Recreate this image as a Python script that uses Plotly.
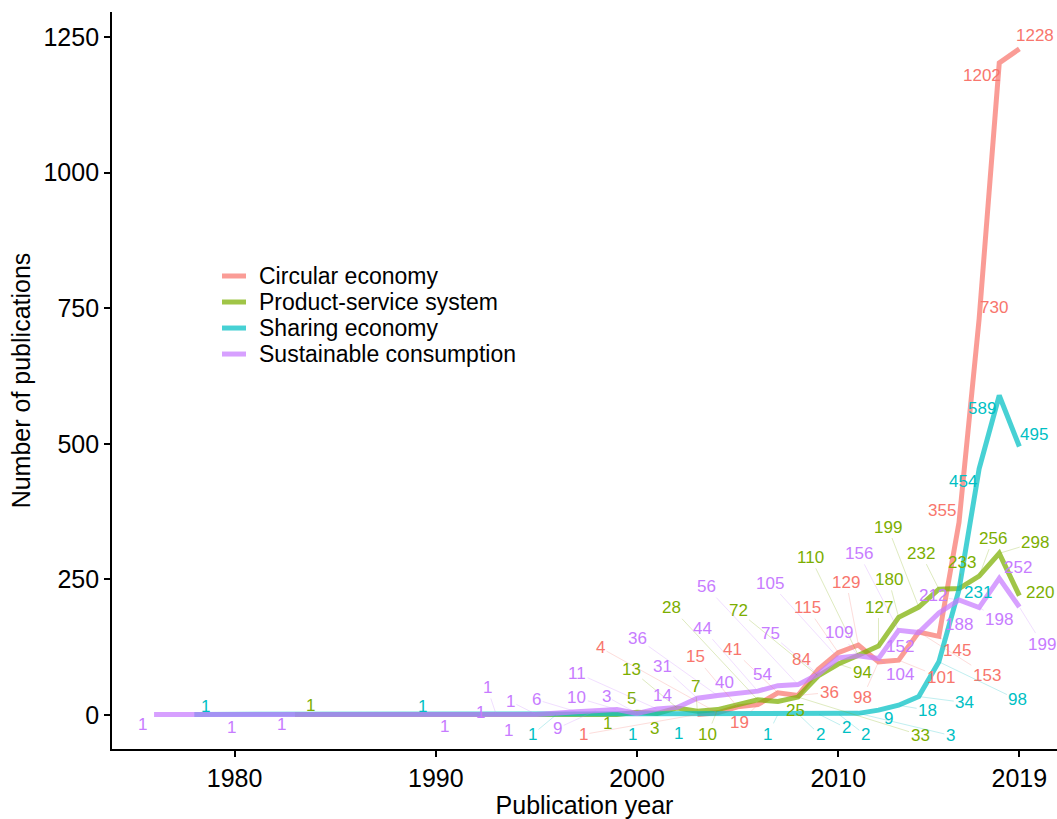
import math
import plotly.graph_objects as go

# Publications per year for each research field
circ_years = list(range(2003, 2020))
circ_counts = [1, 4, 15, 19, 41, 36, 84, 115, 129, 98, 101, 153, 145, 355, 730, 1202, 1228]

pss_years = [1983, 1999, 2000, 2001, 2002, 2003, 2004, 2006, 2007, 2008, 2009, 2010,
             2011, 2012, 2013, 2014, 2015, 2016, 2017, 2018, 2019]
pss_counts = [1, 1, 5, 3, 13, 7, 10, 28, 25, 33, 72, 94, 110, 127, 180, 199, 232, 233,
              256, 298, 220]

share_years = [1978, 1989, 1996, 2000, 2002, 2007, 2008, 2009, 2010, 2011, 2012, 2013,
               2014, 2015, 2016, 2017, 2018, 2019]
share_counts = [1, 1, 1, 1, 1, 1, 2, 2, 2, 3, 9, 18, 34, 98, 231, 454, 589, 495]

sc_years = [1976, 1980, 1982, 1991, 1992, 1993, 1994, 1995, 1997, 1998, 1999, 2000, 2001,
            2002, 2003, 2004, 2005, 2006, 2007, 2008, 2009, 2010, 2011, 2012, 2013, 2014,
            2015, 2016, 2017, 2018, 2019]
sc_counts = [1, 1, 1, 1, 1, 1, 1, 1, 6, 9, 10, 3, 11, 14, 31, 36, 40, 44, 54, 56, 75, 105,
             109, 104, 156, 152, 188, 212, 198, 252, 199]

series_names = ["Circular economy", "Product-service system", "Sharing economy",
                "Sustainable consumption"]

# Repelled label placement: pixel offset (dx, dy) of each value label from its point
circ_label_offsets = [(-114, 20), (-117, -65), (-42, -50), (-18, 18), (-45, -43), (31, -3),
                      (-17, -10), (-31, -45), (-12, -63), (-16, 36), (42, 17), (68, 43),
                      (18, 14), (-17, -12), (15, -12), (-17, 13), (16, -13)]
pss_label_offsets = [(16, -9), (-9, 9), (-6, -14), (-3, 15), (-46, -38), (-2, -25), (-10, 25),
                     (-86, -92), (18, 9), (122, 38), (-80, -65), (24, 8), (-48, -98),
                     (0, -39), (-10, -38), (-31, -80), (-18, -36), (3, -26), (14, -38),
                     (36, -11), (21, -3)]
share_label_offsets = [(11, -8), (7, -8), (-24, 20), (-5, 20), (1, 19), (-10, 20), (22, 21),
                       (28, 14), (27, 21), (92, 22), (10, 8), (29, 5), (46, 6), (79, 38),
                       (19, 3), (-16, 13), (-17, 13), (15, -12)]
sc_label_offsets = [(-12, 10), (-3, 13), (7, 10), (-11, 12), (4, -2), (-9, -27), (-8, 16),
                    (-26, -13), (-40, -12), (-39, 18), (-40, -12), (-31, -17), (-80, -36),
                    (-15, -12), (-35, -32), (-80, -57), (-13, -11), (-55, -63), (-15, -11),
                    (-92, -98), (-48, -41), (-68, -75), (-19, -23), (21, 16), (-40, -77),
                    (-19, 14), (20, 11), (-26, -4), (20, 12), (19, -11), (23, 37)]

hues = ["#F8766D", "#7CAE00", "#00BFC4", "#C77CFF"]
FONT = "Liberation Sans, Arial, sans-serif"


def rgba(hex_color, alpha):
    h = hex_color.lstrip("#")
    r, g, b = int(h[0:2], 16), int(h[2:4], 16), int(h[4:6], 16)
    return f"rgba({r},{g},{b},{alpha})"


series = [
    (circ_years, circ_counts, circ_label_offsets),
    (pss_years, pss_counts, pss_label_offsets),
    (share_years, share_counts, share_label_offsets),
    (sc_years, sc_counts, sc_label_offsets),
]

fig = go.Figure()
annotations = []
for name, colour, (years, counts, offsets) in zip(series_names, hues, series):
    fig.add_trace(go.Scatter(
        x=years, y=counts, mode="lines", name=name, showlegend=False,
        line=dict(color=rgba(colour, 0.72), width=5),
        hoverinfo="x+y+name",
    ))
    for yr, val, (dx, dy) in zip(years, counts, offsets):
        label = dict(x=yr, y=val, xref="x", yref="y", text=str(val),
                     font=dict(family=FONT, size=17, color=colour),
                     xanchor="center", yanchor="middle")
        if math.hypot(dx, dy) > 22:
            label.update(showarrow=True, ax=dx, ay=dy, arrowhead=0, arrowwidth=0.7,
                         arrowcolor=rgba(colour, 0.35), standoff=1)
        else:
            label.update(showarrow=False, xshift=dx, yshift=-dy)
        annotations.append(label)

# Legend keys drawn in paper space
legend_x0, legend_x1, legend_text_x = 0.1164, 0.1418, 0.1534
legend_rows = [0.6418, 0.6065, 0.5712, 0.5359]
shapes = []
for name, colour, yrow in zip(series_names, hues, legend_rows):
    shapes.append(dict(type="line", xref="paper", yref="paper", x0=legend_x0, x1=legend_x1,
                       y0=yrow, y1=yrow, line=dict(color=rgba(colour, 0.72), width=5)))
    annotations.append(dict(xref="paper", yref="paper", x=legend_text_x, y=yrow, text=name,
                            showarrow=False, xanchor="left", yanchor="middle",
                            font=dict(family=FONT, size=23, color="black")))

axis_common = dict(showline=True, linecolor="black", linewidth=1.8, ticks="outside",
                   ticklen=6, tickwidth=1.6, tickcolor="black", showgrid=False,
                   zeroline=False, tickfont=dict(family=FONT, size=25, color="black"))

fig.update_layout(
    width=1057, height=819,
    margin=dict(l=112, r=0, t=12, b=70),
    paper_bgcolor="white", plot_bgcolor="white",
    xaxis=dict(range=[1973.91, 2020.87], tickvals=[1980, 1990, 2000, 2010, 2019],
               title=dict(text="Publication year", standoff=5,
                          font=dict(family=FONT, size=25, color="black")),
               **axis_common),
    yaxis=dict(range=[-62.7, 1296], tickvals=[0, 250, 500, 750, 1000, 1250],
               title=dict(text="Number of publications", standoff=6,
                          font=dict(family=FONT, size=25, color="black")),
               **axis_common),
    annotations=annotations,
    shapes=shapes,
    showlegend=False,
)

fig.write_html("out.html")
